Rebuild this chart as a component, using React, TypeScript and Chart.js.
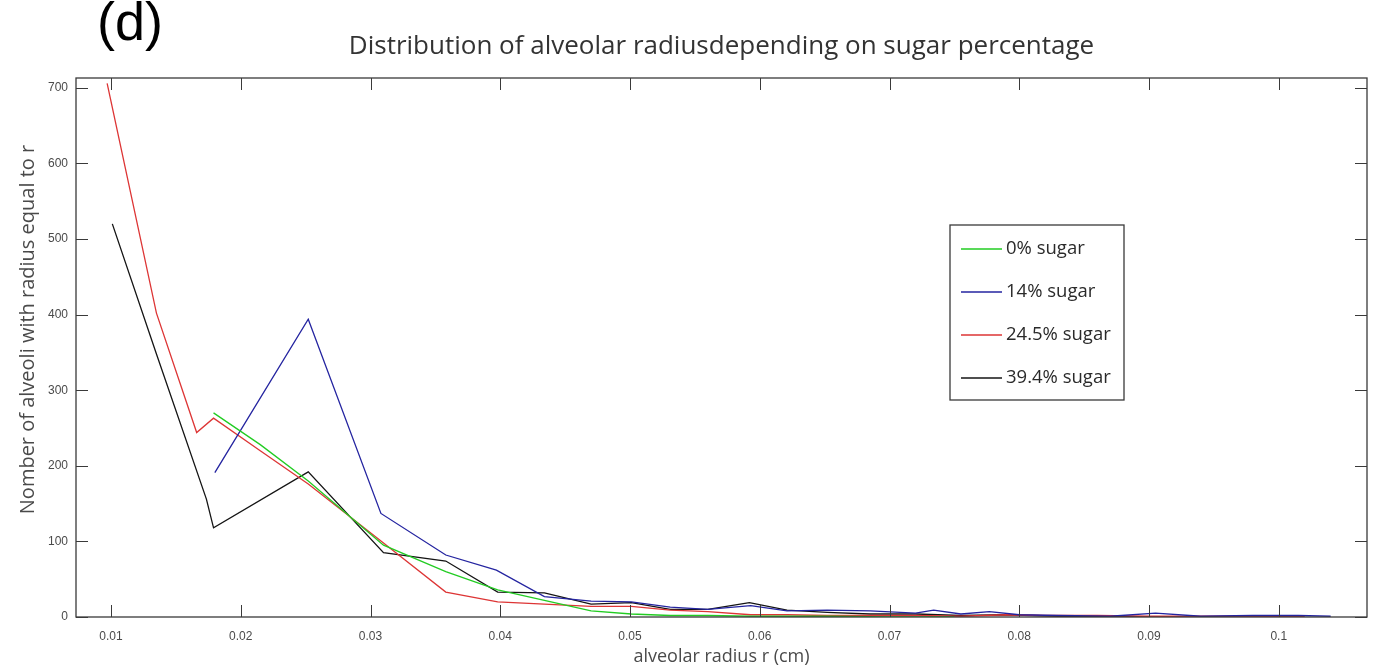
import React, { useEffect, useRef } from "react";
import { Chart, registerables } from "chart.js";

Chart.register(...registerables);

const chartTitle = "Distribution of alveolar radiusdepending on sugar percentage";
const xTitle = "alveolar radius r (cm)";
const yTitle = "Nomber of alveoli with radius equal to r";
const panelLabel = "(d)";

const xTicks = [0.01, 0.02, 0.03, 0.04, 0.05, 0.06, 0.07, 0.08, 0.09, 0.1];
const xTickLabels = ["0.01", "0.02", "0.03", "0.04", "0.05", "0.06", "0.07", "0.08", "0.09", "0.1"];
const yTicks = [0, 100, 200, 300, 400, 500, 600, 700];
const yTickLabels = ["0", "100", "200", "300", "400", "500", "600", "700"];

const seriesNames = ["0% sugar", "14% sugar", "24.5% sugar", "39.4% sugar"];
const seriesColors = ["#22cc22", "#2424a0", "#dd3535", "#141414"];

const greenX = [0.0179, 0.0215, 0.0252, 0.031, 0.0358, 0.0398, 0.0434, 0.047, 0.0501, 0.0531, 0.056, 0.0593, 0.0621, 0.0652, 0.07, 0.075];
const greenY = [270, 228, 180, 95, 60, 36, 22, 8, 4, 2, 2, 1, 1, 1, 0, 0];

const blueX = [0.018, 0.0252, 0.0308, 0.0358, 0.0397, 0.0434, 0.047, 0.0501, 0.0531, 0.056, 0.0593, 0.0621, 0.0652, 0.0685, 0.072, 0.0734, 0.0755, 0.0777, 0.08, 0.083, 0.087, 0.0905, 0.094, 0.098, 0.1015, 0.104];
const blueY = [191, 394, 137, 82, 62, 27, 21, 20, 13, 10, 15, 8, 9, 8, 5, 9, 4, 7, 3, 2, 1, 5, 1, 2, 2, 1];

const redX = [0.0097, 0.0135, 0.0166, 0.0179, 0.0215, 0.0252, 0.031, 0.0358, 0.0398, 0.0434, 0.047, 0.0501, 0.0531, 0.056, 0.0593, 0.0621, 0.0652, 0.0685, 0.072, 0.0755, 0.079, 0.082, 0.086, 0.09, 0.094, 0.098, 0.102];
const redY = [706, 402, 244, 263, 220, 176, 98, 33, 20, 17, 14, 14, 9, 7, 3, 3, 2, 2, 2, 1, 3, 2, 2, 1, 1, 1, 1];

const blackX = [0.0101, 0.0135, 0.01735, 0.0179, 0.0252, 0.031, 0.0358, 0.0398, 0.0434, 0.047, 0.0501, 0.0531, 0.056, 0.0592, 0.0621, 0.0652, 0.0685, 0.072, 0.0755, 0.079, 0.083, 0.087, 0.09];
const blackY = [520, 348, 156, 118, 192, 85, 74, 33, 32, 17, 19, 10, 10, 19, 9, 6, 4, 4, 2, 3, 1, 1, 0];

const seriesX = [greenX, blueX, redX, blackX];
const seriesY = [greenY, blueY, redY, blackY];

const frameColor = "#3a3a3a";
const textColor = "#4a4a4a";

const framePlugin = {
  id: "frameTicks",
  afterDatasetsDraw(chart: any) {
    const { ctx, chartArea: a, scales } = chart;
    ctx.save();
    ctx.strokeStyle = frameColor;
    ctx.lineWidth = 1.3;
    ctx.strokeRect(a.left, a.top, a.right - a.left, a.bottom - a.top);
    const L = 12;
    ctx.beginPath();
    for (const v of xTicks) {
      const px = Math.round(scales.x.getPixelForValue(v)) + 0.5;
      ctx.moveTo(px, a.bottom);
      ctx.lineTo(px, a.bottom - L);
      ctx.moveTo(px, a.top);
      ctx.lineTo(px, a.top + L);
    }
    for (const v of yTicks) {
      const py = Math.round(scales.y.getPixelForValue(v)) + 0.5;
      ctx.moveTo(a.left, py);
      ctx.lineTo(a.left + L, py);
      ctx.moveTo(a.right, py);
      ctx.lineTo(a.right - L, py);
    }
    ctx.lineWidth = 1;
    ctx.stroke();
    ctx.restore();
  },
};

const titlesPlugin = {
  id: "titles",
  afterDraw(chart: any) {
    const { ctx, chartArea: a } = chart;
    ctx.save();
    ctx.textAlign = "center";
    ctx.textBaseline = "middle";
    ctx.fillStyle = "#333333";
    ctx.font = "26px 'Open Sans'";
    ctx.fillText(chartTitle, (a.left + a.right) / 2, a.top - 31);
    ctx.fillStyle = textColor;
    ctx.font = "20px 'Open Sans'";
    ctx.translate(a.left - 48, (a.top + a.bottom) / 2 - 18);
    ctx.rotate(-Math.PI / 2);
    ctx.fillText(yTitle, 0, 0);
    ctx.restore();
  },
};

const legendPlugin = {
  id: "innerLegend",
  afterDraw(chart: any) {
    const { ctx, chartArea: a } = chart;
    const left = a.left + 874;
    const top = a.top + 147;
    const w = 174;
    const h = 175;
    ctx.save();
    ctx.fillStyle = "#ffffff";
    ctx.fillRect(left, top, w, h);
    ctx.strokeStyle = frameColor;
    ctx.lineWidth = 1.3;
    ctx.strokeRect(left, top, w, h);
    ctx.font = "18.5px 'Open Sans'";
    ctx.textBaseline = "middle";
    ctx.textAlign = "left";
    chart.data.datasets.forEach((ds: any, i: number) => {
      const cy = top + 24 + i * 43;
      ctx.strokeStyle = ds.borderColor;
      ctx.lineWidth = 1.3;
      ctx.beginPath();
      ctx.moveTo(left + 11, cy);
      ctx.lineTo(left + 52, cy);
      ctx.stroke();
      ctx.fillStyle = "#2a2a2a";
      ctx.fillText(ds.label, left + 56, cy);
    });
    ctx.restore();
  },
};

export default function App() {
  const ref = useRef<HTMLCanvasElement | null>(null);

  useEffect(() => {
    document.body.style.margin = "0";
    const canvas = ref.current;
    if (!canvas) return;
    const datasets = seriesNames.map((name, i) => ({
      label: name,
      data: seriesX[i].map((x, j) => ({ x, y: seriesY[i][j] })),
      borderColor: seriesColors[i],
      backgroundColor: seriesColors[i],
      borderWidth: 1.3,
      pointRadius: 0,
      tension: 0,
      fill: false,
    }));
    const chart = new Chart(canvas, {
      type: "line",
      data: { datasets },
      plugins: [framePlugin, titlesPlugin, legendPlugin],
      options: {
        responsive: false,
        animation: false,
        devicePixelRatio: 1,
        layout: { padding: { left: 0, right: 12, top: 78, bottom: 0 } },
        plugins: {
          legend: { display: false },
          tooltip: { enabled: false },
          title: { display: false },
        },
        scales: {
          x: {
            type: "linear",
            min: 0.0073,
            max: 0.1068,
            grid: { display: false, drawTicks: false },
            border: { display: false },
            afterBuildTicks: (s: any) => {
              s.ticks = xTicks.map((v) => ({ value: v }));
            },
            afterFit: (s: any) => {
              s.height = 51;
            },
            ticks: {
              padding: 12,
              color: textColor,
              font: { family: "'Liberation Sans'", size: 12 },
              maxRotation: 0,
              autoSkip: false,
              callback: (v: any) => {
                const i = xTicks.findIndex((t) => Math.abs(t - Number(v)) < 1e-9);
                return i >= 0 ? xTickLabels[i] : "";
              },
            },
            title: {
              display: true,
              text: xTitle,
              color: textColor,
              font: { family: "'Open Sans'", size: 18, lineHeight: 1.2 },
              padding: { top: 0, bottom: 0.2 },
            },
          },
          y: {
            type: "linear",
            min: 0,
            max: 713,
            grid: { display: false, drawTicks: false },
            border: { display: false },
            afterBuildTicks: (s: any) => {
              s.ticks = yTicks.map((v) => ({ value: v }));
            },
            afterFit: (s: any) => {
              s.width = 76;
            },
            ticks: {
              padding: 8,
              color: textColor,
              font: { family: "'Liberation Sans'", size: 12 },
              autoSkip: false,
              callback: (v: any) => {
                const i = yTicks.indexOf(Number(v));
                return i >= 0 ? yTickLabels[i] : "";
              },
            },
          },
        },
      },
    });
    return () => chart.destroy();
  }, []);

  return (
    <div style={{ position: "relative", width: 1379, height: 668, background: "#ffffff" }}>
      <canvas ref={ref} width={1379} height={668} style={{ display: "block" }} />
      <div
        style={{
          position: "absolute",
          left: 97,
          top: -6,
          fontFamily: "'Liberation Sans', Arial, sans-serif",
          fontSize: 54,
          lineHeight: 1,
          color: "#000000",
        }}
      >
        {panelLabel}
      </div>
    </div>
  );
}
